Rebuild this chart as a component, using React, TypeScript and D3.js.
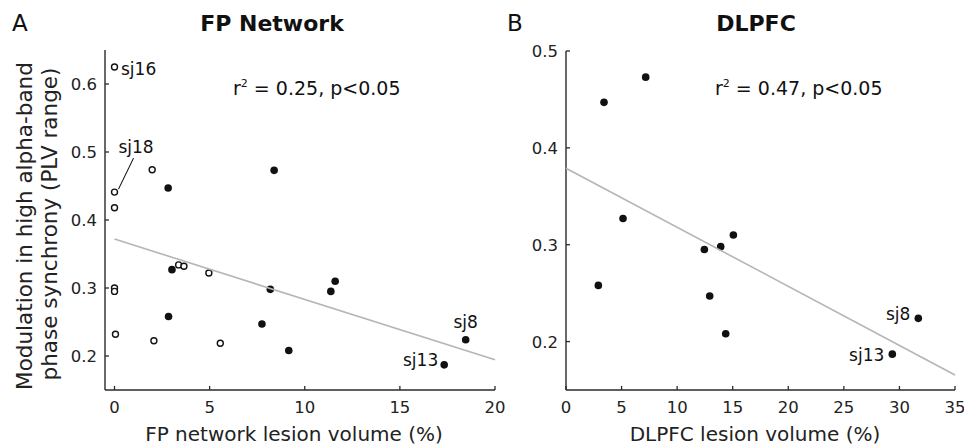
import React from 'react'
import * as d3 from 'd3'

// subjects without DLPFC lesion (open circles, FP panel only)
const fpOpenX = [0, 0, 0, 1.98, 0, 0, 0.05, 2.07, 3.37, 3.65, 4.96, 5.56]
const fpOpenY = [0.625, 0.441, 0.418, 0.474, 0.3, 0.295, 0.232, 0.2225, 0.334, 0.332, 0.322, 0.2187]
const fpOpenNames = ['sj16', 'sj18', '', '', '', '', '', '', '', '', '', '']

// subjects with DLPFC lesion (filled, both panels)
const fpFilledX = [2.82, 8.39, 3.02, 2.84, 7.75, 9.16, 11.37, 11.6, 8.19, 17.33, 18.46]
const dlpfcX = [3.42, 7.17, 5.13, 2.91, 12.93, 14.37, 12.45, 15.06, 13.92, 29.36, 31.7]
const filledY = [0.447, 0.473, 0.327, 0.258, 0.247, 0.208, 0.295, 0.31, 0.298, 0.187, 0.224]
const filledNames = ['', '', '', '', '', '', '', '', '', 'sj13', 'sj8']

// regression fits [intercept, slope]
const fitA = [0.372, -0.00888]
const fitB = [0.379, -0.0061]

const ticksAX = [0, 5, 10, 15, 20]
const ticksAY = [0.2, 0.3, 0.4, 0.5, 0.6]
const ticksBX = [0, 5, 10, 15, 20, 25, 30, 35]
const ticksBY = [0.2, 0.3, 0.4, 0.5]

const FONT = 'DejaVu Sans, Verdana, sans-serif'
const AXIS = '#2a2a2a'

type LabelPos = { [k: string]: { dx: number; dy: number; anchor: string; lead?: number[] } }

const Panel = ({ x, y, xTicks, yTicks, fit, open, filled, letter, title, titleX, xLabel, xLabelX, stat, statX, labels }) => {
  const [x0, x1] = x.domain()
  const lineData = [x0 < 0 ? 0 : x0, x1]
  const line = d3
    .line<number>()
    .x(d => x(d))
    .y(d => y(fit[0] + fit[1] * d))
  const [yb, yt] = y.range()
  const [xl, xr] = x.range()

  const renderLabel = (px, py, name, key) => {
    if (!name || !labels[name]) return null
    const l = labels[name]
    return (
      <g key={key}>
        {l.lead && (
          <line
            x1={px + l.lead[0]}
            y1={py + l.lead[1]}
            x2={px + l.lead[2]}
            y2={py + l.lead[3]}
            stroke="#111"
            strokeWidth={1.1}
          />
        )}
        <text x={px + l.dx} y={py + l.dy} textAnchor={l.anchor} fontSize={17} fill="#111">
          {name}
        </text>
      </g>
    )
  }

  return (
    <g fontFamily={FONT}>
      <text x={letter.x} y={31} fontSize={23} fill="#111">{letter.t}</text>
      <text x={titleX} y={31} fontSize={22} fontWeight="bold" textAnchor="middle" fill="#111">{title}</text>

      {/* axes */}
      <line x1={xl} x2={xr} y1={yb} y2={yb} stroke={AXIS} strokeWidth={1.4} />
      <line x1={xl} x2={xl} y1={yb} y2={yt} stroke={AXIS} strokeWidth={1.4} />
      {xTicks.map(t => (
        <g key={'xt' + t}>
          <line x1={x(t)} x2={x(t)} y1={yb} y2={yb - 4} stroke={AXIS} strokeWidth={1.3} />
          <text x={x(t)} y={yb + 23} textAnchor="middle" fontSize={16.5} fill="#222">{t}</text>
        </g>
      ))}
      {yTicks.map(t => (
        <g key={'yt' + t}>
          <line x1={xl} x2={xl + 4} y1={y(t)} y2={y(t)} stroke={AXIS} strokeWidth={1.3} />
          <text x={xl - 8} y={y(t) + 6} textAnchor="end" fontSize={16.5} fill="#222">{t.toFixed(1)}</text>
        </g>
      ))}

      <text x={xLabelX} y={441} textAnchor="middle" fontSize={20} fill="#222">{xLabel}</text>

      <text x={statX} y={95} fontSize={19} fill="#111">
        r<tspan fontSize={11} dy={-8}>2</tspan>
        <tspan dy={8}> = {stat}, p&lt;0.05</tspan>
      </text>

      {filled.map((d, i) => (
        <circle key={'f' + i} cx={x(d[0])} cy={y(d[1])} r={3.8} fill="#111" />
      ))}
      {open.map((d, i) => (
        <circle key={'o' + i} cx={x(d[0])} cy={y(d[1])} r={3} fill="#fff" stroke="#111" strokeWidth={1.4} />
      ))}

      <path d={line(lineData) || ''} fill="none" stroke="#b5b5b5" strokeWidth={1.6} />

      {open.map((d, i) => renderLabel(x(d[0]), y(d[1]), d[2], 'ol' + i))}
      {filled.map((d, i) => renderLabel(x(d[0]), y(d[1]), d[2], 'fl' + i))}
    </g>
  )
}

const App = () => {
  const xA = d3.scaleLinear().domain([-0.5, 20]).range([105, 495])
  const yA = d3.scaleLinear().domain([0.15, 0.65]).range([390, 50])
  const xB = d3.scaleLinear().domain([0, 35]).range([566, 955])
  const yB = d3.scaleLinear().domain([0.15, 0.5]).range([390, 51])

  const openA = fpOpenX.map((v, i) => [v, fpOpenY[i], fpOpenNames[i]])
  const filledA = fpFilledX.map((v, i) => [v, filledY[i], filledNames[i]])
  const filledB = dlpfcX.map((v, i) => [v, filledY[i], filledNames[i]])

  const labelsA: LabelPos = {
    sj16: { dx: 6.5, dy: 7.5, anchor: 'start' },
    sj18: { dx: 21.5, dy: -39, anchor: 'middle', lead: [4, -3, 19, -34] },
    sj8: { dx: 0, dy: -12, anchor: 'middle' },
    sj13: { dx: -6, dy: 1.5, anchor: 'end' }
  }
  const labelsB: LabelPos = {
    sj8: { dx: -8, dy: 1.5, anchor: 'end' },
    sj13: { dx: -8, dy: 6.5, anchor: 'end' }
  }

  return (
    <svg width={964} height={447} style={{ position: 'absolute', left: 0, top: 0, background: '#fff' }}>
      <g fontFamily={FONT} fontSize={21.5} fill="#222">
        <text transform="translate(32,226) rotate(-90)" textAnchor="middle">Modulation in high alpha-band</text>
        <text transform="translate(57,224) rotate(-90)" textAnchor="middle">phase synchrony (PLV range)</text>
      </g>
      <Panel
        x={xA}
        y={yA}
        xTicks={ticksAX}
        yTicks={ticksAY}
        fit={fitA}
        open={openA}
        filled={filledA}
        letter={{ x: 12, t: 'A' }}
        title="FP Network"
        titleX={272}
        xLabel="FP network lesion volume (%)"
        xLabelX={294}
        stat="0.25"
        statX={233}
        labels={labelsA}
      />
      <Panel
        x={xB}
        y={yB}
        xTicks={ticksBX}
        yTicks={ticksBY}
        fit={fitB}
        open={[]}
        filled={filledB}
        letter={{ x: 507, t: 'B' }}
        title="DLPFC"
        titleX={756}
        xLabel="DLPFC lesion volume (%)"
        xLabelX={755}
        stat="0.47"
        statX={715}
        labels={labelsB}
      />
    </svg>
  )
}

export default App
